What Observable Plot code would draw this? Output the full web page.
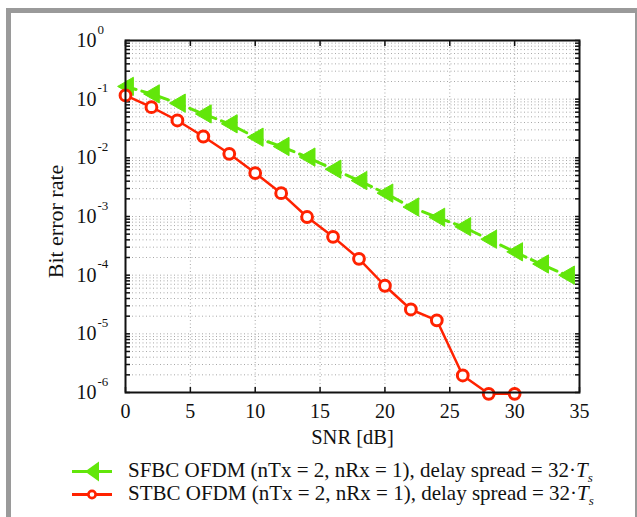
<!DOCTYPE html>
<html>
<head>
<meta charset="utf-8">
<script src="https://cdn.jsdelivr.net/npm/d3@7"></script>
<script src="https://cdn.jsdelivr.net/npm/@observablehq/plot@0.6"></script>
<style>
  html, body { margin: 0; padding: 0; background: #fff; }
  body { width: 637px; height: 517px; overflow: hidden; position: relative; font-family: "Liberation Serif", "DejaVu Serif", serif; }
  #frame { position: absolute; left: 6px; top: 8px; width: 624px; height: 560px; border: 5px solid #9a9a9a; box-sizing: content-box; }
  #chart { position: absolute; left: 0; top: 0; }
  #legend { position: absolute; left: 0; top: 460px; font-size: 21px; color: #111; }
  .row { position: absolute; left: 0; height: 23px; white-space: nowrap; }
  .row svg { position: absolute; left: 70px; top: 0; }
  .row span { position: absolute; left: 128px; top: -1px; line-height: 23px; }
</style>
</head>
<body>
<div id="frame"></div>
<div id="chart"></div>
<div id="legend"></div>
<script>
// ---- data ----
const snrSFBC = [0, 2, 4, 6, 8, 10, 12, 14, 16, 18, 20, 22, 24, 26, 28, 30, 32, 34];
const berSFBC = [0.165, 0.123, 0.0855, 0.056, 0.038, 0.0225, 0.0156, 0.0103, 0.0064, 0.0041, 0.0025, 0.00145, 0.00097, 0.00067, 0.00041, 0.00025, 0.000155, 0.0001];
const snrSTBC = [0, 2, 4, 6, 8, 10, 12, 14, 16, 18, 20, 22, 24, 26, 28, 30];
const berSTBC = [0.116, 0.073, 0.0433, 0.0231, 0.0117, 0.0055, 0.0025, 0.00098, 0.00045, 0.00019, 0.000066, 0.000026, 0.000017, 0.00000195, 0.00000095, 0.00000095];
const xTicks = [0, 5, 10, 15, 20, 25, 30, 35];
const yExponents = [0, -1, -2, -3, -4, -5, -6];
const legendLabels = ["SFBC OFDM (nTx = 2, nRx = 1), delay spread = 32·", "STBC OFDM (nTx = 2, nRx = 1), delay spread = 32·"];
const xLabel = "SNR [dB]";
const yLabel = "Bit error rate";

const green = "#62e60a";
const red = "#ff2200";
const serif = "Liberation Serif";

const sfbc = snrSFBC.map((x, i) => ({x, y: berSFBC[i]}));
const stbc = snrSTBC.map((x, i) => ({x, y: berSTBC[i]}));

// log grid values (1..9 x each decade)
const logGrid = [];
for (let e = -6; e < 0; e++) for (let m = 1; m <= 9; m++) logGrid.push(m * 10 ** e);
logGrid.push(1);

const triLeft = {
  draw(ctx, size) {
    const r = Math.sqrt(size / Math.PI);
    ctx.moveTo(-r * 0.95, 0);
    ctx.lineTo(r * 0.95, -r * 1.1);
    ctx.lineTo(r * 0.95, r * 1.1);
    ctx.closePath();
  }
};

const chart = Plot.plot({
  width: 637,
  height: 450,
  marginLeft: 125,
  marginRight: 58,
  marginTop: 40,
  marginBottom: 58,
  style: { fontFamily: serif, background: "transparent", color: "#111" },
  x: { domain: [0, 35], axis: null, label: null },
  y: { type: "log", domain: [1e-6, 1], axis: null, label: null },
  marks: [
    // grid
    Plot.ruleX(xTicks.slice(1, -1), { stroke: "#a8a8a8", strokeDasharray: "1,2.5", strokeWidth: 1 }),
    Plot.ruleY(logGrid.filter(v => v > 1e-6 && v < 1), { stroke: "#a8a8a8", strokeDasharray: "1,2.5", strokeWidth: 1 }),
    // inward ticks on all sides
    Plot.axisX({ anchor: "bottom", ticks: xTicks, tickSize: -5, tickFormat: () => "", strokeWidth: 1.5, label: null }),
    Plot.axisX({ anchor: "top", ticks: xTicks, tickSize: -5, tickFormat: () => "", strokeWidth: 1.5, label: null }),
    Plot.axisY({ anchor: "left", ticks: logGrid, tickSize: -5, tickFormat: () => "", strokeWidth: 1.5, label: null }),
    Plot.axisY({ anchor: "right", ticks: logGrid, tickSize: -5, tickFormat: () => "", strokeWidth: 1.5, label: null }),
    // x tick labels
    Plot.axisX({ anchor: "bottom", ticks: xTicks, tickSize: 0, tickPadding: 11, fontSize: 20, fontFamily: serif, fill: "#111", label: null }),
    // y tick labels 10^e
    Plot.text(yExponents, { y: e => 10 ** e, text: () => "10", frameAnchor: "left", textAnchor: "end", dx: -29, fontSize: 20, fontFamily: serif, fill: "#111" }),
    Plot.text(yExponents, { y: e => 10 ** e, text: e => (e < 0 ? "-" + (-e) : String(e)), frameAnchor: "left", textAnchor: "start", dx: -28, dy: -11, fontSize: 13, fontFamily: serif, fill: "#111" }),
    // axis labels
    Plot.text([xLabel], { text: d => d, frameAnchor: "bottom", lineAnchor: "middle", textAnchor: "middle", dy: 45, fontSize: 20.5, fontFamily: serif, fill: "#111" }),
    Plot.text([yLabel], { text: d => d, frameAnchor: "left", textAnchor: "middle", lineAnchor: "middle", dx: -70, dy: 5, rotate: -90, fontSize: 22, fontFamily: serif, fill: "#111" }),
    // data
    Plot.line(sfbc, { x: "x", y: "y", stroke: green, strokeWidth: 3, strokeDasharray: "11,6" }),
    Plot.dot(sfbc, { x: "x", y: "y", symbol: triLeft, r: 8.3, fill: green, stroke: green, strokeWidth: 1 }),
    Plot.line(stbc, { x: "x", y: "y", stroke: red, strokeWidth: 2.5 }),
    Plot.dot(stbc, { x: "x", y: "y", r: 5.4, fill: "white", stroke: red, strokeWidth: 3 }),
    // box
    Plot.frame({ stroke: "#111", strokeWidth: 2 })
  ]
});
document.getElementById("chart").appendChild(chart);

// legend
const legend = document.getElementById("legend");
const swatches = [
  `<svg width="46" height="23"><line x1="2" y1="11.5" x2="42" y2="11.5" stroke="${green}" stroke-width="3"/><path d="M15,11.5 L29,1.5 L29,21.5 Z" fill="${green}"/></svg>`,
  `<svg width="46" height="23"><line x1="2" y1="11.5" x2="42" y2="11.5" stroke="${red}" stroke-width="3"/><circle cx="22" cy="11.5" r="3.6" fill="white" stroke="${red}" stroke-width="2.6"/></svg>`
];
legendLabels.forEach((lab, i) => {
  const row = document.createElement("div");
  row.className = "row";
  row.style.top = (i * 23) + "px";
  row.innerHTML = swatches[i] + `<span>${lab}<i>T</i><sub style="font-size:13px;font-style:italic;vertical-align:-5px;line-height:0">s</sub></span>`;
  legend.appendChild(row);
});
</script>
</body>
</html>
